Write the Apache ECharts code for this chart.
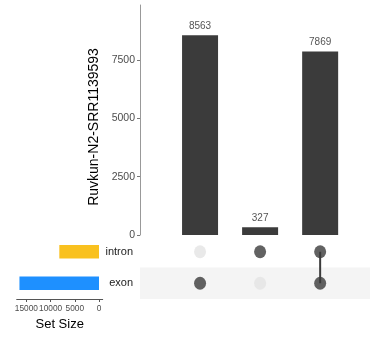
<!DOCTYPE html>
<html>
<head>
<meta charset="utf-8">
<script src="https://cdn.jsdelivr.net/npm/echarts@6/dist/echarts.min.js"></script>
<style>html,body{margin:0;padding:0;background:#fff}#c{width:370px;height:337px}</style>
</head>
<body>
<div id="c"></div>
<script>
// ---- data ----
const setNames = ['exon', 'intron'];           // bottom to top
const setSizes = [16432, 8196];
const setColors = ['#1E90FF', '#F9C11F'];
const intersectionSizes = [8563, 327, 7869];
const intersectionSets = [['exon'], ['intron'], ['exon', 'intron']];
const setSizeTicks = [0, 5000, 10000, 15000];
const yName = 'Ruvkun-N2-SRR1139593';

const FONT = 'Liberation Sans, Arial, sans-serif';
const DARK = '#3B3B3B';
const colX = intersectionSizes.map((v, i) => i + 1);
const plain = v => String(v);

const activePts = [], inactivePts = [];
intersectionSets.forEach((sets, i) => {
  setNames.forEach(s => {
    (sets.indexOf(s) >= 0 ? activePts : inactivePts).push([colX[i], s]);
  });
});
const lineSeries = [];
intersectionSets.forEach((sets, i) => {
  if (sets.length > 1) {
    const idx = sets.map(s => setNames.indexOf(s)).sort();
    lineSeries.push({
      type: 'line', xAxisIndex: 1, yAxisIndex: 1, symbol: 'none', silent: true,
      lineStyle: { color: DARK, width: 2 }, z: 2,
      data: [[colX[i], setNames[idx[0]]], [colX[i], setNames[idx[idx.length - 1]]]]
    });
  }
});

const chart = echarts.init(document.getElementById('c'), null, { renderer: 'canvas' });
chart.setOption({
  animation: false,
  backgroundColor: '#fff',
  textStyle: { fontFamily: FONT },
  grid: [
    { left: 140, top: 5, width: 230, height: 230 },
    { left: 140, top: 236, width: 230, height: 63 },
    { left: 16.7, top: 236, width: 86, height: 63 }
  ],
  xAxis: [
    { gridIndex: 0, type: 'value', min: 0, max: 3.83, show: false },
    { gridIndex: 1, type: 'value', min: 0, max: 3.83, show: false },
    {
      gridIndex: 2, type: 'value', inverse: true, min: -765, max: 17000, position: 'bottom',
      splitLine: { show: false },
      axisLine: { show: true, lineStyle: { color: '#555', width: 1 } },
      axisTick: { show: true, length: 3, lineStyle: { color: '#555' }, customValues: setSizeTicks },
      axisLabel: { fontSize: 8.3, color: '#4D4D4D', margin: 6, fontFamily: FONT, customValues: setSizeTicks,
        hideOverlap: false, formatter: plain, showMinLabel: true, showMaxLabel: true },
      name: 'Set Size', nameLocation: 'middle', nameGap: 19,
      nameTextStyle: { fontSize: 13, color: '#000', fontFamily: FONT }
    }
  ],
  yAxis: [
    {
      gridIndex: 0, type: 'value', min: 0, max: 9857, interval: 2500,
      splitLine: { show: false },
      axisLine: { show: true, lineStyle: { color: '#999', width: 1 } },
      axisTick: { show: true, length: 3, lineStyle: { color: '#777' } },
      axisLabel: { fontSize: 10.5, color: '#4D4D4D', margin: 5, fontFamily: FONT, formatter: plain,
        showMaxLabel: false },
      name: yName, nameLocation: 'middle', nameGap: 33, nameRotate: 90,
      nameTextStyle: { fontSize: 14, color: '#000', fontFamily: FONT, padding: [0, 14, 0, 0] }
    },
    {
      gridIndex: 1, type: 'category', data: setNames, boundaryGap: true,
      axisLine: { show: false }, axisTick: { show: false },
      axisLabel: { fontSize: 11, color: '#222', margin: 7, fontFamily: FONT },
      splitLine: { show: false },
      splitArea: { show: true, areaStyle: { color: ['#F4F4F4', 'rgba(255,255,255,0)'] } }
    },
    {
      gridIndex: 2, type: 'category', data: setNames, boundaryGap: true, show: false
    }
  ],
  series: [
    {
      type: 'bar', xAxisIndex: 0, yAxisIndex: 0, barWidth: 36,
      itemStyle: { color: DARK },
      label: { show: true, position: 'top', distance: 4, fontSize: 10, color: '#555', fontFamily: FONT },
      data: intersectionSizes.map((v, i) => [colX[i], v])
    },
    {
      type: 'scatter', xAxisIndex: 1, yAxisIndex: 1, symbol: 'circle', symbolSize: [12, 13],
      itemStyle: { color: '#E3E3E3' }, z: 1, data: inactivePts
    },
    ...lineSeries,
    {
      type: 'scatter', xAxisIndex: 1, yAxisIndex: 1, symbol: 'circle', symbolSize: [12, 13],
      itemStyle: { color: DARK }, z: 3, data: activePts
    },
    {
      type: 'bar', xAxisIndex: 2, yAxisIndex: 2, barWidth: 13.5,
      data: setSizes.map((v, i) => ({ value: v, itemStyle: { color: setColors[i] } }))
    }
  ]
});
</script>
</body>
</html>
